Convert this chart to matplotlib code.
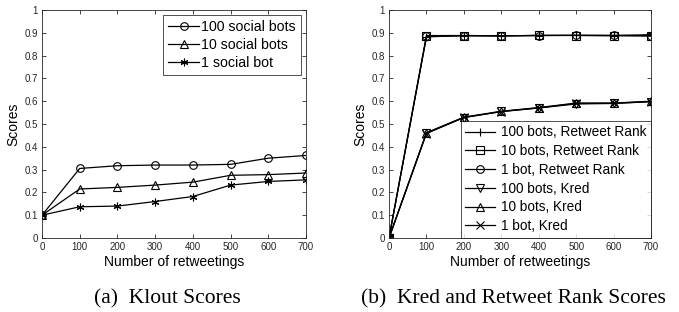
import numpy as np
import matplotlib
matplotlib.use("Agg")
import matplotlib.pyplot as plt

plt.rcParams['font.family'] = ['Liberation Sans', 'DejaVu Sans']

# data
x = [0, 100, 200, 300, 400, 500, 600, 700]

klout_100 = [0.10, 0.305, 0.317, 0.320, 0.320, 0.323, 0.350, 0.362]
klout_10 = [0.10, 0.215, 0.222, 0.232, 0.245, 0.275, 0.278, 0.285]
klout_1 = [0.10, 0.137, 0.140, 0.160, 0.182, 0.232, 0.248, 0.255]

rr_100 = [0.0, 0.882, 0.888, 0.887, 0.888, 0.889, 0.888, 0.892]
rr_10 = [0.0, 0.884, 0.887, 0.886, 0.889, 0.888, 0.887, 0.886]
rr_1 = [0.0, 0.888, 0.888, 0.887, 0.888, 0.889, 0.889, 0.887]
kred_100 = [0.0, 0.460, 0.528, 0.555, 0.570, 0.588, 0.590, 0.598]
kred_10 = [0.0, 0.462, 0.530, 0.556, 0.572, 0.592, 0.592, 0.600]
kred_1 = [0.0, 0.458, 0.529, 0.554, 0.571, 0.590, 0.591, 0.598]

fig = plt.figure(figsize=(6.79, 3.12), dpi=100)
ax1 = fig.add_axes([42/679, 1-238/312, 264/679, 228/312])
ax2 = fig.add_axes([389/679, 1-238/312, 262/679, 228/312])

mkw = dict(color='black', lw=0.9, markerfacecolor='none', markeredgewidth=0.8, markersize=5.5)
ax1.plot(x, klout_100, marker='o', label='100 social bots', **mkw)
ax1.plot(x, klout_10, marker='^', label='10 social bots', **mkw)
ax1.plot(x, klout_1, marker=(6, 2, 0), label='1 social bot', **mkw)

ax2.plot(x, rr_100, marker='+', label='100 bots, Retweet Rank', **mkw)
ax2.plot(x, rr_10, marker='s', label='10 bots, Retweet Rank', **mkw)
ax2.plot(x, rr_1, marker='o', label='1 bot, Retweet Rank', **mkw)
ax2.plot(x, kred_100, marker='v', label='100 bots, Kred', **mkw)
ax2.plot(x, kred_10, marker='^', label='10 bots, Kred', **mkw)
ax2.plot(x, kred_1, marker='x', label='1 bot, Kred', **mkw)

for ax in (ax1, ax2):
    ax.set_xlim(0, 700)
    ax.set_ylim(0, 1)
    ax.set_xticks(range(0, 701, 100))
    ax.set_yticks(np.arange(0, 1.01, 0.1))
    ax.set_yticklabels(['0', '0.1', '0.2', '0.3', '0.4', '0.5', '0.6', '0.7', '0.8', '0.9', '1'])
    ax.tick_params(direction='in', top=True, right=True, labelsize=7, length=3, width=0.6,
                   colors='#262626', pad=3)
    for s in ax.spines.values():
        s.set_linewidth(0.6)
        s.set_color('#262626')
    ax.set_xlabel('Number of retweetings', fontsize=10, labelpad=2)
    ax.set_ylabel('Scores', fontsize=10, labelpad=3)

leg1 = ax1.legend(loc='upper right', fontsize=10.2, fancybox=False, edgecolor='black',
                  handlelength=2.2, borderaxespad=0.35, labelspacing=0.3, handletextpad=0.15,
                  borderpad=0.35)
leg1.get_frame().set_linewidth(0.6)
leg2 = ax2.legend(loc='lower right', fontsize=9.8, fancybox=False, edgecolor='black',
                  handlelength=2.2, borderaxespad=0.0, labelspacing=0.35, handletextpad=0.4,
                  borderpad=0.35)
leg2.get_frame().set_linewidth(0.6)

fig.text(167/679, 1-299/312, '(a)  Klout Scores', ha='center', va='center',
         fontsize=15.5, family=['Liberation Serif', 'DejaVu Serif'])
fig.text(513/679, 1-299/312, '(b)  Kred and Retweet Rank Scores', ha='center', va='center',
         fontsize=15.5, family=['Liberation Serif', 'DejaVu Serif'])

fig.savefig('out.png', dpi=100)
